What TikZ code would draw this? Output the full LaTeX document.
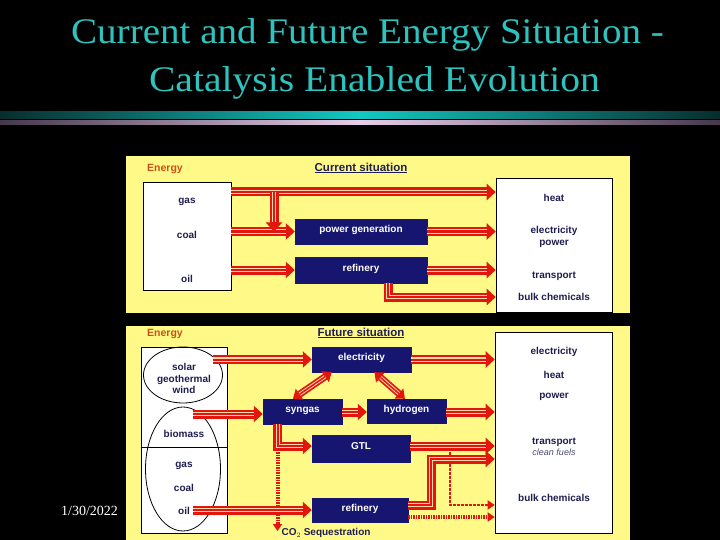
\documentclass[tikz,border=0pt]{standalone}
\usepackage{fontspec}
\setmainfont{Liberation Serif}
\newfontfamily\arialf{Liberation Sans}
\usetikzlibrary{arrows.meta,shapes.geometric,calc}
\definecolor{ared}{RGB}{225,22,12}
\definecolor{stripe}{RGB}{250,215,170}
\definecolor{panel}{RGB}{255,250,135}
\definecolor{navy}{RGB}{22,22,112}
\definecolor{ink}{RGB}{30,30,80}
\definecolor{energyc}{RGB}{200,80,25}
\definecolor{titlec}{RGB}{45,195,190}
\definecolor{bardark}{RGB}{8,45,45}
\definecolor{barteal}{RGB}{20,200,195}
\definecolor{lavdark}{RGB}{70,55,75}
\definecolor{lavlight}{RGB}{235,205,235}
\begin{document}
\begin{tikzpicture}[x=1pt,y=-1pt,
  lab/.style={font=\arialf\bfseries\fontsize{10}{11.5}\selectfont, text=ink, inner sep=0pt, align=center},
  dbox/.style={draw=navy, fill=navy, font=\arialf\bfseries\fontsize{10}{10}\selectfont, text=white, inner sep=0pt, text height=7pt, text depth=5pt},
  wbox/.style={draw=black, fill=white, line width=0.6pt, inner sep=0pt},
  ell/.style={draw=black, ellipse, line width=0.8pt, inner sep=0pt},
  energy/.style={font=\arialf\bfseries\fontsize{10.5}{12}\selectfont, text=energyc, inner sep=0pt},
  head/.style={font=\arialf\bfseries\fontsize{11.5}{13}\selectfont, text=ink, inner sep=0pt},
  tri/.style={draw=ared, line width=9pt, -{Triangle[length=9pt,width=16pt]},
     postaction={draw=stripe, line width=4.5pt, -, shorten >=9pt},
     postaction={draw=ared, line width=2pt, -, shorten >=9pt}},
  tribi/.style={draw=ared, line width=7pt, {Triangle[length=8pt,width=13pt]}-{Triangle[length=8pt,width=13pt]},
     postaction={draw=stripe, line width=3.5pt, -, shorten >=8pt, shorten <=8pt},
     postaction={draw=ared, line width=1.5pt, -, shorten >=8pt, shorten <=8pt}},
  hatch/.style={draw=ared, line width=4pt, dash pattern=on 1.5pt off 1pt, -{Triangle[length=7pt,width=9pt]}},
  thinarr/.style={draw=ared, line width=2.5pt, dash pattern=on 3pt off 1pt, -{Triangle[length=7pt,width=9pt]}},
]
\useasboundingbox (0,0) rectangle (720,540);
\fill[black] (0,0) rectangle (720,540);

% title
\node[font=\fontsize{36}{43}\selectfont, text=titlec, anchor=base] (t1) at (367.5,44) {\scalebox{1.085}[1]{Current and Future Energy Situation -}};
\node[font=\fontsize{36}{43}\selectfont, text=titlec, anchor=base] (t2) at (374.5,92) {\scalebox{1.1}[1]{Catalysis Enabled Evolution}};
\shade[left color=bardark, right color=bardark, middle color=barteal] (0,112) rectangle (720,119);
\shade[left color=lavdark, right color=lavdark, middle color=lavlight] (0,121) rectangle (720,125);
\node[font=\fontsize{14}{16}\selectfont, text=white, anchor=base] (date) at (89.5,515) {1/30/2022};

% ---------------- upper panel ----------------
\fill[panel] (126,156) rectangle (630,313);
\node[energy] (en1) at (165,169) {Energy};
\node[head] (cs) at (361,168) {\underline{Current situation}};
\node[wbox, minimum width=88pt, minimum height=108pt] (src) at (187,236) {};
\node[lab] (gas1) at (187,202) {gas};
\node[lab] (coal1) at (187,235) {coal};
\node[lab] (oil1) at (187,279) {oil};
\node[dbox, minimum width=132pt, minimum height=25pt] (pg) at (361,231.5) {power generation};
\node[dbox, minimum width=132pt, minimum height=26pt] (ref) at (361,270) {refinery};
\node[wbox, minimum width=116pt, minimum height=134pt] (out) at (554,245) {};
\node[lab] (heat1) at (554,198) {heat};
\node[lab] (ep1) at (554,237) {electricity\\power};
\node[lab] (tr1) at (554,276) {transport};
\node[lab] (bc1) at (554,297) {bulk chemicals};

\coordinate (gasrow) at (0,192);
\coordinate (gbr) at (274,192);
\coordinate (bulkrow) at (0,297);
\coordinate (rbr) at (388,283);
\draw[tri] (src.east |- gasrow) -- (out.west |- gasrow);
\draw[tri] (src.east |- pg.west) -- (pg.west);
\draw[tri] (src.east |- ref.west) -- (ref.west);
\draw[tri] (gbr) -- (gbr |- pg.west);
\draw[tri] (pg.east) -- (out.west |- pg.east);
\draw[tri] (ref.east) -- (out.west |- ref.east);
\draw[tri] (rbr) |- (out.west |- bulkrow);

% ---------------- lower panel ----------------
\fill[panel] (126,326) rectangle (630,540);
\node[energy] (en2) at (165,334) {Energy};
\node[head] (fs) at (361,333) {\underline{Future situation}};
\node[wbox, minimum width=86pt, minimum height=186pt] (src2) at (184,440) {};
\coordinate (divrow) at (0,447);
\draw[line width=0.6pt] (src2.west |- divrow) -- (src2.east |- divrow);
\node[ell, minimum width=79pt, minimum height=56pt] (e1) at (183,375) {};
\node[ell, minimum width=75pt, minimum height=124pt] (e2) at (183,469) {};
\node[lab] (sgw) at (184,378.5) {solar\\geothermal\\wind};
\node[lab] (bio2) at (184,434) {biomass};
\node[lab] (gas2) at (184,466) {gas};
\node[lab] (coal2) at (184,488) {coal};
\node[lab] (oil2t) at (184,511) {oil};

\node[dbox, minimum width=99pt, minimum height=25pt] (elec) at (361.5,359.5) {electricity};
\node[dbox, minimum width=79pt, minimum height=25pt] (syn) at (302.5,411.5) {syngas};
\node[dbox, minimum width=79pt, minimum height=24pt] (hyd) at (406.5,411) {hydrogen};
\node[dbox, minimum width=98pt, minimum height=27pt] (gtl) at (361,448.5) {GTL};
\node[dbox, minimum width=96pt, minimum height=24pt] (ref2) at (360,510) {refinery};
\node[wbox, minimum width=117pt, minimum height=201pt] (out2) at (553.5,432.5) {};
\node[lab] (el2) at (554,352) {electricity};
\node[lab] (heat2) at (554,375) {heat};
\node[lab] (pow2) at (554,397) {power};
\node[lab] (tr2) at (554,442) {transport};
\node[font=\arialf\itshape\fontsize{9}{10}\selectfont, text=ink!80, inner sep=0pt] (cf) at (554,452.5) {clean fuels};
\node[lab] (bc2) at (554,498) {bulk chemicals};
\node[head, font=\arialf\bfseries\fontsize{10}{11}\selectfont] (co2) at (326,533) {CO$_2$ Sequestration};

\coordinate (sol) at (213,359.5);
\coordinate (bio) at (193,414);
\coordinate (h2row) at (0,412);
\coordinate (oilst) at (193,510);
\coordinate (gtlrow) at (0,446);
\coordinate (co2top) at (277.5,452);
\coordinate (co2end) at (277.5,531);
\coordinate (r2row) at (0,505);
\coordinate (upr) at (431,459);
\coordinate (dsh) at (450,448);
\coordinate (hrow) at (0,517);

\draw[tri] (sol) -- (elec.west);
\draw[tri] (elec.east) -- (out2.west |- elec.east);
\draw[tri] (bio) -- (syn.west |- bio);
\draw[tri] (syn.east |- h2row) -- (hyd.west |- h2row);
\draw[tri] (hyd.east |- h2row) -- (out2.west |- h2row);
\draw[tribi] ($(syn.north west)!0.38!(syn.north east)$) -- ($(elec.south west)!0.2!(elec.south east)$);
\draw[tribi] ($(elec.south west)!0.63!(elec.south east)$) -- ($(hyd.north west)!0.48!(hyd.north east)$);
\draw[hatch] (co2top) -- (co2end);
\draw[tri] ($(syn.south west)!0.19!(syn.south east)$) |- (gtl.west |- gtlrow);
\draw[tri] (oilst) -- (ref2.west);
\draw[thinarr] (dsh) |- (out2.west |- r2row);
\draw[tri] (gtl.east |- gtlrow) -- (out2.west |- gtlrow);
\draw[tri] (ref2.east |- r2row) -| (upr) -- (out2.west |- upr);
\draw[hatch] (ref2.east |- hrow) -- (out2.west |- hrow);
\end{tikzpicture}
\end{document}
